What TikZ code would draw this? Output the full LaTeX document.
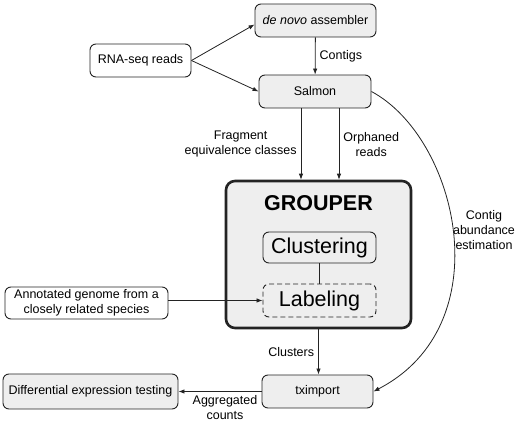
\documentclass[tikz,border=0pt]{standalone}
\usepackage{fontspec}
\setmainfont{Liberation Sans}
\usetikzlibrary{arrows.meta}
\definecolor{boxgray}{RGB}{238,238,238}
\definecolor{linegray}{RGB}{35,35,35}

\begin{document}
\begin{tikzpicture}[x=1pt,y=-1pt,
    box/.style={draw=linegray,rounded corners=6pt,align=center,inner sep=0pt,
      minimum height=33pt,line width=0.9pt,font=\fontsize{12.5}{15}\selectfont},
    graybox/.style={box,fill=boxgray},
    whitebox/.style={box,fill=white},
    bigtext/.style={font=\fontsize{21.5}{24}\selectfont},
    lbl/.style={align=center,inner sep=4pt,font=\fontsize{12.5}{15}\selectfont},
    arr/.style={draw=linegray,line width=0.8pt,-{Latex[length=6pt,width=4.5pt]}}]
    \useasboundingbox (0,0) rectangle (520,427);

    \node[whitebox,minimum width=101pt] (rna) at (140.5,60.5) {RNA-seq reads};
    \node[graybox,minimum width=121pt] (asm) at (315.5,20.5) {\textit{de novo} assembler};
    \node[graybox,minimum width=112pt] (salmon) at (315,91.5) {Salmon};
    \node[graybox,minimum width=185pt,minimum height=147pt,line width=2.6pt,rounded corners=9pt] (grouper) at (318.5,254.5) {};
    \node[bigtext,font=\fontsize{21.5}{24}\selectfont\bfseries] (gtitle) at (318.5,203) {GROUPER};
    \node[graybox,bigtext,minimum width=113pt,minimum height=31pt] (clust) at (319.5,247.5) {Clustering};
    \node[graybox,bigtext,minimum width=113pt,dash pattern=on 5pt off 3pt] (labeling) at (319.5,300.5) {Labeling};
    \node[whitebox,minimum width=163pt,minimum height=32pt] (annot) at (86.5,303) {Annotated genome from a\\closely related species};
    \node[graybox,minimum width=111pt] (txi) at (317.5,391.5) {tximport};
    \node[graybox,minimum width=175pt,minimum height=35pt] (diff) at (90.5,391.5) {Differential expression testing};
    \node[lbl] (contig) at (484,230) {Contig\\abundance\\estimation};

    \draw[arr] (rna.east) -- ([yshift=-4pt]asm.west);
    \draw[arr] (rna.east) -- (salmon.west);
    \draw[arr] (asm) -- node[lbl,right] (contigs) {Contigs} (salmon);
    \draw[arr] ([xshift=-14pt]salmon.south) -- node[lbl,left] (frag) {Fragment\\equivalence classes} ([xshift=-14pt]salmon.south |- grouper.north);
    \draw[arr] ([xshift=24pt]salmon.south) -- node[lbl,right] (orph) {Orphaned\\reads} ([xshift=24pt]salmon.south |- grouper.north);
    \draw[draw=linegray,line width=0.8pt] (clust) -- (labeling);
    \draw[arr] (annot.east |- labeling) -- (labeling.west);
    \draw[arr] (grouper.south) -- node[lbl,left] (clusters) {Clusters} (grouper.south |- txi.north);
    \draw[arr] (txi) -- node[lbl,below,pos=0.44] (aggr) {Aggregated\\counts} (diff);
    \draw[arr] (salmon.east) .. controls (458,138) and (502,325) .. (txi.east);
\end{tikzpicture}
\end{document}
